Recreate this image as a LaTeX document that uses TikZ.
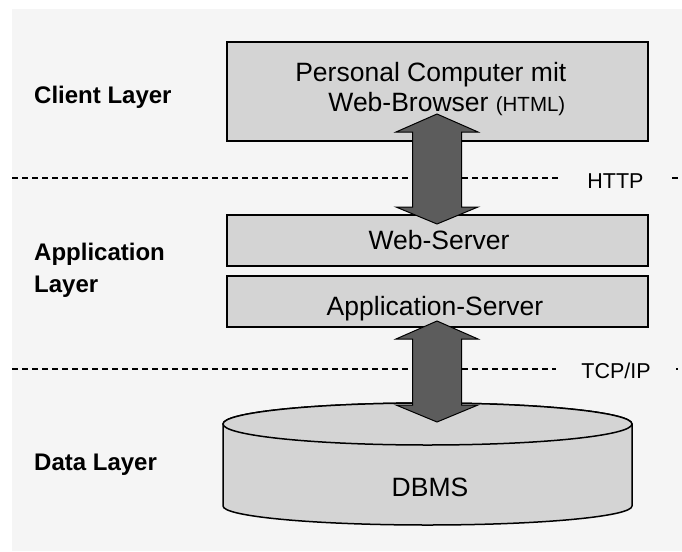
\documentclass[tikz,border=0pt]{standalone}
\usepackage{fontspec}
\setmainfont{Liberation Sans}
\usetikzlibrary{calc}

\definecolor{panelbg}{HTML}{F5F5F5}
\definecolor{boxfill}{HTML}{D4D4D4}
\definecolor{arrowfill}{HTML}{5C5C5C}

\tikzset{
  layerbox/.style={draw=black, line width=1.5pt, fill=boxfill, inner sep=0pt},
  boxtext/.style={inner sep=0pt, anchor=base, font=\fontsize{26.5}{30}\selectfont},
  layerlabel/.style={inner sep=0pt, anchor=base west, font=\fontsize{24}{28}\selectfont\bfseries},
  protolabel/.style={fill=panelbg, inner xsep=25pt, inner ysep=4pt, anchor=base,
    font=\fontsize{21.5}{25}\selectfont},
  sepline/.style={draw=black, line width=1.1pt, dash pattern=on 6pt off 4pt},
  blockarrow/.style={draw=black, line width=1pt, fill=arrowfill, line join=miter},
}

% double-headed block arrow between two named tip coordinates
\newcommand\dblblockarrow[2]{%
  \path[blockarrow] (#1) -- ($(#1)+(41,18)$) -- ($(#1)+(24.5,18)$)
    -- ($(#2)+(24.5,-17)$) -- ($(#2)+(41,-17)$) -- (#2)
    -- ($(#2)+(-41,-17)$) -- ($(#2)+(-24.5,-17)$)
    -- ($(#1)+(-24.5,18)$) -- ($(#1)+(-41,18)$) -- cycle;}

\begin{document}
\begin{tikzpicture}[x=1pt, y=-1pt]
  \useasboundingbox (0,0) rectangle (682,551);
  \fill[panelbg] (12,9) rectangle (682,551);

  % layer separators
  \draw[sepline] (12,178) -- (682,178);
  \draw[sepline] (12,369) -- (682,369);
  \node[protolabel] (http) at (615.5,188) {HTTP};
  \node[protolabel] (tcpip) at (616,378.3) {TCP/IP};

  % layer names
  \node[layerlabel] (client) at (34,103) {Client Layer};
  \node[layerlabel] (applbl1) at (34,260) {Application};
  \node[layerlabel] (applbl2) at (34,292) {Layer};
  \node[layerlabel] (datalbl) at (34,470) {Data Layer};

  % client box
  \node[layerbox, minimum width=421pt, minimum height=99pt] (pc) at (437.5,91.5) {};
  \node[boxtext, anchor=base east] (pctext1) at (566.5,81.7) {Personal Computer mit};
  \node[boxtext, anchor=base east] (pctext2) at (565.5,111.7)
    {Web-Browser {\fontsize{20.5}{24}\selectfont(HTML)}};

  % application boxes
  \node[layerbox, minimum width=421pt, minimum height=51pt] (web) at (437.5,240.5) {};
  \node[boxtext] (webtext) at (439,249) {Web-Server};
  \node[layerbox, minimum width=421pt, minimum height=51pt] (app) at (437.5,301.5) {};
  \node[boxtext] (apptext) at (435,315) {Application-Server};

  % database cylinder
  \path[draw=black, line width=1.5pt, fill=boxfill]
    (223,424) -- (223,506) arc[start angle=180, end angle=360, x radius=204.5pt, y radius=19pt]
    -- (632,424) arc[start angle=0, end angle=180, x radius=204.5pt, y radius=21pt] -- cycle;
  \draw[line width=1.5pt, fill=boxfill] (427.5,424) ellipse [x radius=204.5pt, y radius=21pt];
  \node[boxtext] (dbms) at (430,496.7) {DBMS};

  % connections between the layers
  \coordinate (httptop) at (437,114);
  \coordinate (httpbot) at (437,224);
  \coordinate (tcptop) at (437,321);
  \coordinate (tcpbot) at (437,422);
  \dblblockarrow{httptop}{httpbot}
  \dblblockarrow{tcptop}{tcpbot}
\end{tikzpicture}
\end{document}
